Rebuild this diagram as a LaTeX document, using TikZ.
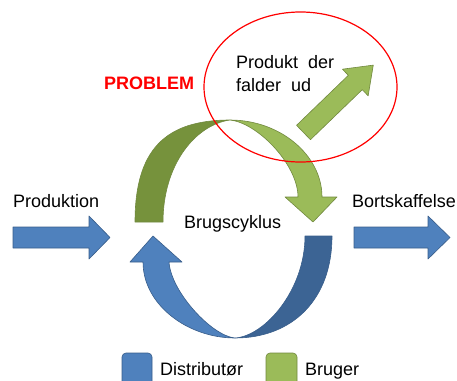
\documentclass[tikz,border=0pt]{standalone}
\usepackage{fontspec}
\setmainfont{Liberation Sans}
\definecolor{gdark}{HTML}{76923C}
\definecolor{glight}{HTML}{9BBB59}
\definecolor{gedge}{HTML}{71893F}
\definecolor{blight}{HTML}{4F81BD}
\definecolor{bdark}{HTML}{3C6494}
\definecolor{bedge}{HTML}{385D8A}
\definecolor{alarm}{HTML}{FF0000}
\begin{document}
\begin{tikzpicture}[x=1pt,y=-1pt,
  lbl/.style={inner sep=0pt, anchor=base west, font=\fontsize{18}{21}\selectfont},
  greenpart/.style={draw=gedge, line width=0.6pt, line join=round},
  bluepart/.style={draw=bedge, line width=0.6pt, line join=round},
  legendbox/.style={rounded corners=4pt, line width=0.6pt}]
\clip (0,0) rectangle (457,380);

% upper half of the cycle (user): back face and front face with arrow head
\fill[gdark, greenpart] (135,222)
  .. controls (135,150) and (165,120) .. (230,120)
  .. controls (195,125) and (163,165) .. (163,222) -- cycle;
\fill[glight, greenpart] (230,120)
  .. controls (280,120) and (322,155) .. (322,197)
  -- (337,197) -- (313,222) -- (285,197) -- (298,197)
  .. controls (298,165) and (258,123) .. (230,120) -- cycle;

% lower half of the cycle (distributor)
\fill[bdark, bluepart] (332,236)
  .. controls (332,300) and (292,338) .. (235,338)
  .. controls (265,336) and (305,290) .. (305,236) -- cycle;
\fill[blight, bluepart] (235,338)
  .. controls (188,338) and (143,305) .. (143,262)
  -- (130,262) -- (153,236) -- (182,262) -- (169,262)
  .. controls (171,292) and (212,336) .. (235,338) -- cycle;

% straight in/out arrows
\fill[blight, bluepart] (13,227) -- (89,227) -- (89,216) -- (110,237.5)
  -- (89,259) -- (89,248) -- (13,248) -- cycle;
\fill[blight, bluepart] (354,227) -- (428,227) -- (428,216) -- (450,237.5)
  -- (428,259) -- (428,248) -- (354,248) -- cycle;

% product dropping out of the cycle
\begin{scope}[shift={(303.5,132.5)}, rotate=44]
  \fill[glight, greenpart] (0,-10) -- (72,-10) -- (72,-18.5) -- (97,0)
    -- (72,18.5) -- (72,10) -- (0,10) -- cycle;
\end{scope}

% problem area
\draw[alarm, line width=1.2pt] (300.5,87) ellipse[x radius=96.5, y radius=75];

% legend swatches
\fill[blight, draw=bedge, legendbox] (122,353) rectangle (152,392);
\fill[glight, draw=gedge, legendbox] (266,353) rectangle (297,392);

% labels
\node[lbl] (prod) at (13,207) {Produktion};
\node[lbl] (bort) at (352,207) {Bortskaffelse};
\node[lbl] (cyc) at (184,228) {Brugscyklus};
\node[lbl, text=alarm, font=\fontsize{18}{21}\selectfont\bfseries] (prob) at (104,89) {PROBLEM};
\node[lbl] (fald1) at (236,68) {Produkt\ \ der};
\node[lbl] (fald2) at (236,91) {falder\ \ ud};
\node[lbl] (dist) at (160,375) {Distributør};
\node[lbl] (brug) at (305,375) {Bruger};
\end{tikzpicture}
\end{document}
